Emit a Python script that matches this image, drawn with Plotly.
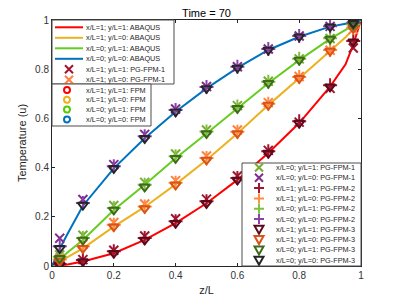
import plotly.graph_objects as go

# ---------------- data ----------------
z_line = [0, 0.025, 0.05, 0.1, 0.2, 0.3, 0.4, 0.5, 0.6, 0.7, 0.8, 0.9, 0.95, 0.975, 1.0]
abaqus_11 = [0, 0.003, 0.006, 0.018, 0.052, 0.106, 0.174, 0.255, 0.350, 0.459, 0.581, 0.729, 0.82, 0.90, 1.0]
abaqus_10 = [0, 0.018, 0.036, 0.072, 0.160, 0.240, 0.332, 0.431, 0.539, 0.654, 0.763, 0.874, 0.93, 0.962, 1.0]
abaqus_01 = [0, 0.028, 0.055, 0.106, 0.228, 0.330, 0.438, 0.539, 0.641, 0.743, 0.837, 0.923, 0.96, 0.98, 1.0]
abaqus_00 = [0, 0.070, 0.130, 0.245, 0.397, 0.519, 0.627, 0.722, 0.805, 0.878, 0.932, 0.973, 0.985, 0.99, 1.0]

z_pts = [0.025, 0.1, 0.2, 0.3, 0.4, 0.5, 0.6, 0.7, 0.8, 0.9, 0.975]
pg1_11 = [0.010, 0.026, 0.064, 0.122, 0.192, 0.272, 0.366, 0.470, 0.585, 0.722, 0.886]
pg1_10 = [0.032, 0.088, 0.177, 0.252, 0.347, 0.447, 0.553, 0.664, 0.770, 0.877, 0.962]
pg1_01 = [0.045, 0.125, 0.246, 0.340, 0.455, 0.553, 0.652, 0.751, 0.842, 0.925, 0.978]
pg1_00 = [0.113, 0.270, 0.412, 0.535, 0.638, 0.730, 0.810, 0.882, 0.935, 0.974, 0.988]

pg2_11 = [0.008, 0.024, 0.060, 0.114, 0.182, 0.263, 0.358, 0.466, 0.588, 0.735, 0.915]
pg2_10 = [0.026, 0.080, 0.168, 0.242, 0.338, 0.439, 0.546, 0.660, 0.768, 0.878, 0.968]
pg2_01 = [0.038, 0.114, 0.236, 0.330, 0.446, 0.547, 0.648, 0.749, 0.842, 0.926, 0.982]
pg2_00 = [0.080, 0.256, 0.405, 0.527, 0.634, 0.728, 0.810, 0.882, 0.935, 0.975, 0.989]

pg3_11 = [0.004, 0.018, 0.052, 0.106, 0.174, 0.255, 0.350, 0.459, 0.581, 0.729, 0.912]
pg3_10 = [0.020, 0.072, 0.160, 0.234, 0.330, 0.431, 0.539, 0.654, 0.763, 0.874, 0.966]
pg3_01 = [0.031, 0.106, 0.228, 0.322, 0.438, 0.539, 0.641, 0.743, 0.837, 0.923, 0.980]
pg3_00 = [0.072, 0.248, 0.397, 0.519, 0.627, 0.722, 0.805, 0.878, 0.932, 0.973, 0.987]

labels = ["x/L=1; y/L=1", "x/L=1; y/L=0", "x/L=0; y/L=1", "x/L=0; y/L=0"]
abaqus_colors = ["#FF0000", "#EDB120", "#66CC22", "#0072BD"]
pg1_colors = ["#A2142F", "#FF7F3F", "#77AC30", "#7E2F8E"]
pg2_colors = ["#A2142F", "#FF8C40", "#80C040", "#8E3FAE"]
pg3_colors = ["#5A0A1A", "#D95319", "#3E6B1A", "#262626"]
fpm_colors = ["#FF0000", "#EDB120", "#55CC00", "#0072BD"]

abaqus = [abaqus_11, abaqus_10, abaqus_01, abaqus_00]
pg1 = [pg1_11, pg1_10, pg1_01, pg1_00]
pg2 = [pg2_11, pg2_10, pg2_01, pg2_00]
pg3 = [pg3_11, pg3_10, pg3_01, pg3_00]

x_ticks = [0, 0.2, 0.4, 0.6, 0.8, 1]
y_ticks = [0, 0.2, 0.4, 0.6, 0.8, 1]

# ---------------- figure ----------------
fig = go.Figure()
for lab, col, ys in zip(labels, abaqus_colors, abaqus):
    fig.add_trace(go.Scatter(x=z_line, y=ys, mode="lines", name=lab + ": ABAQUS",
                             line=dict(color=col, width=2), showlegend=False))
for lab, col, ys in zip(labels, pg1_colors, pg1):
    fig.add_trace(go.Scatter(x=z_pts, y=ys, mode="markers", name=lab + ": PG-FPM-1",
                             marker=dict(symbol="x-thin-open", size=9, color=col,
                                         line=dict(color=col, width=2)), showlegend=False))
for lab, col, ys in zip(labels, pg2_colors, pg2):
    fig.add_trace(go.Scatter(x=z_pts, y=ys, mode="markers", name=lab + ": PG-FPM-2",
                             marker=dict(symbol="cross-thin-open", size=10, color=col,
                                         line=dict(color=col, width=2)), showlegend=False))
for lab, col, ys in zip(labels, pg3_colors, pg3):
    fig.add_trace(go.Scatter(x=z_pts, y=ys, mode="markers", name=lab + ": PG-FPM-3",
                             marker=dict(symbol="triangle-down-open", size=9, color=col,
                                         line=dict(color=col, width=2)), showlegend=False))

# ---------------- manual legends (compact, MATLAB-like) ----------------
# page offset of 8px (browser body margin) is accounted for in the figure size/margins
L, T, W, H = 52, 20, 309, 246
def px(x): return (x - L) / W
def py(y): return (T + H - y) / H

shapes = []
annos = []

def box(x0, y0, x1, y1):
    shapes.append(dict(type="rect", xref="paper", yref="paper", x0=px(x0), x1=px(x1),
                       y0=py(y1), y1=py(y0), fillcolor="white",
                       line=dict(color="#4d4d4d", width=1)))

def glyph(kind, color, cx, cy):
    common = dict(xref="paper", yref="paper", xsizemode="pixel", ysizemode="pixel",
                  xanchor=px(cx), yanchor=py(cy), line=dict(color=color, width=2))
    if kind == "line":
        shapes.append(dict(type="line", xref="paper", yref="paper", x0=px(cx - 14), x1=px(cx + 14),
                           y0=py(cy), y1=py(cy), line=dict(color=color, width=2)))
    elif kind == "x":
        s = 4
        shapes.append(dict(type="path", path=f"M{-s},{-s}L{s},{s}M{-s},{s}L{s},{-s}", **common))
    elif kind == "+":
        s = 5
        shapes.append(dict(type="path", path=f"M{-s},0L{s},0M0,{-s}L0,{s}", **common))
    elif kind == "v":
        shapes.append(dict(type="path", path="M-4.5,3.5L4.5,3.5L0,-4.5Z", **common))
    elif kind == "o":
        shapes.append(dict(type="circle", x0=-3, x1=3, y0=-3, y1=3, **common))

def text(t, x, y):
    annos.append(dict(text=t, xref="paper", yref="paper", x=px(x), y=py(y), xanchor="left",
                      yanchor="middle", showarrow=False,
                      font=dict(size=7.3, color="#262626", family="Liberation Sans, Arial")))

# legend 1
leg1 = [("line", abaqus_colors[i], labels[i] + ": ABAQUS") for i in range(4)] + \
       [("x", pg1_colors[i], labels[i] + ": PG-FPM-1") for i in range(2)]
box(52, 20, 174, 84)
for i, (k, c, t) in enumerate(leg1):
    yy = 27.3 + i * 10.5
    glyph(k, c, 69, yy)
    text(t, 84, yy)

# legend 2
leg2 = [("o", fpm_colors[i], labels[i] + ": FPM") for i in range(4)]
box(52, 84, 151, 126)
for i, (k, c, t) in enumerate(leg2):
    yy = 90 + i * 9.8
    glyph(k, c, 67, yy)
    text(t, 84, yy)

# legend 3
leg3 = [("x", pg1_colors[i], labels[i] + ": PG-FPM-1") for i in (2, 3)] + \
       [("+", pg2_colors[i], labels[i] + ": PG-FPM-2") for i in range(4)] + \
       [("v", pg3_colors[i], labels[i] + ": PG-FPM-3") for i in range(4)]
box(242, 163, 361, 266)
for i, (k, c, t) in enumerate(leg3):
    yy = 167.5 + i * 10.3
    glyph(k, c, 259, yy)
    text(t, 274, yy)

axis_common = dict(showline=True, linecolor="#262626", linewidth=1, mirror="allticks",
                   ticks="inside", ticklen=3, tickcolor="#262626", showgrid=False,
                   zeroline=False, tickfont=dict(size=10, color="#333333"))

fig.update_layout(
    width=391, height=291,
    margin=dict(l=44, r=38, t=12, b=33, autoexpand=False),
    paper_bgcolor="white", plot_bgcolor="white",
    font=dict(family="Liberation Sans, Arial", color="#262626"),
    title=dict(text="Time = 70", x=(206.5 - 8) / 391, xanchor="center", y=1 - 1.5 / 291,
               yref="container", yanchor="top", pad=dict(t=0, b=0),
               font=dict(size=11, color="#000000")),
    xaxis=dict(range=[0, 1], tickvals=x_ticks, ticktext=[f"{v:g}" for v in x_ticks],
               title=dict(text="z/L", font=dict(size=11), standoff=6), automargin=False,
               **axis_common),
    yaxis=dict(range=[0, 1], tickvals=y_ticks, ticktext=[f"{v:g}" for v in y_ticks],
               title=dict(text="Temperature (u)", font=dict(size=11), standoff=6), automargin=False,
               **axis_common),
    shapes=shapes, annotations=annos, showlegend=False,
)

fig.write_html("out.html")
